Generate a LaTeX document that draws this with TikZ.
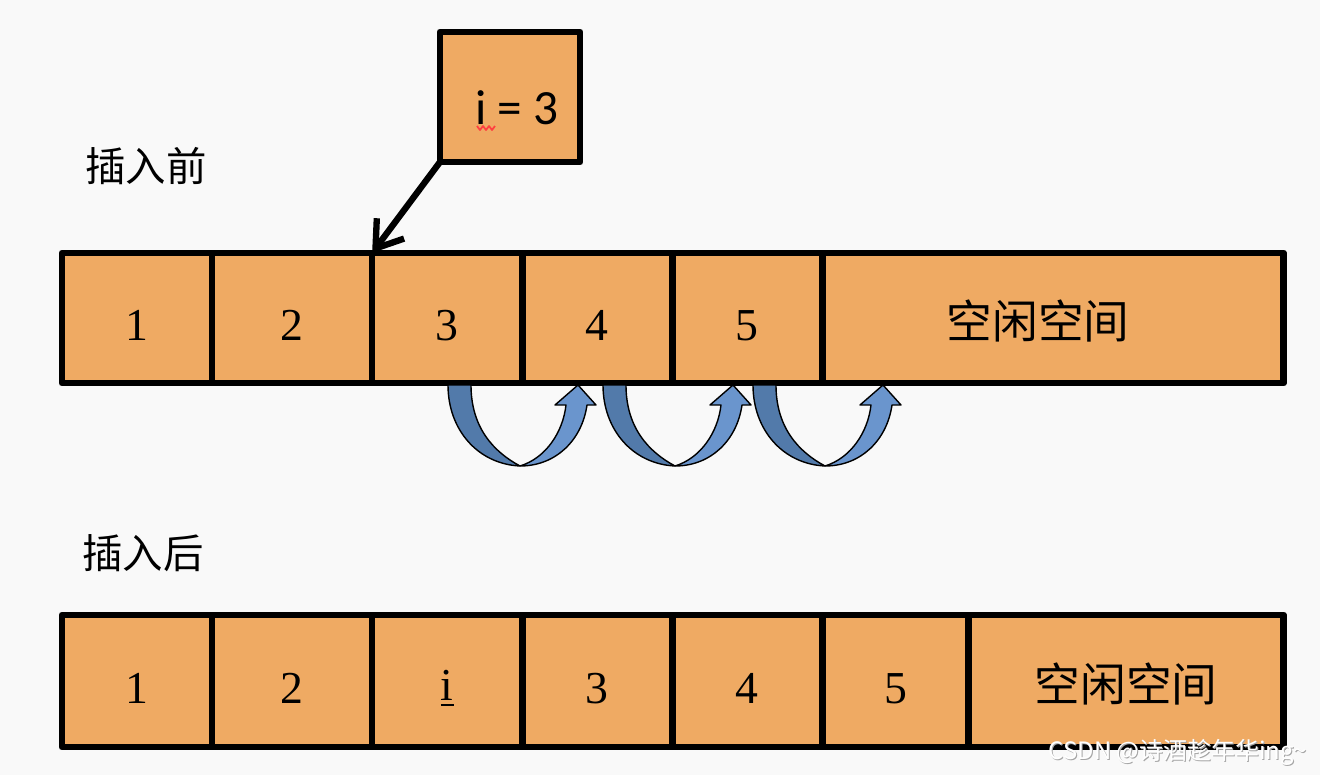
\documentclass[tikz,border=0pt]{standalone}
\usepackage{fontspec}
\setmainfont{Liberation Serif}
\newfontfamily\cjkfont{Noto Sans CJK SC}
\newfontfamily\carlito{Carlito}
\usetikzlibrary{arrows.meta,positioning}
\definecolor{cellorange}{RGB}{239,170,99}
\definecolor{arcdark}{RGB}{82,122,170}
\definecolor{arclight}{RGB}{106,149,205}
\definecolor{paper}{RGB}{249,249,249}
\tikzset{
	cell/.style={draw=black, line width=1.9pt, fill=cellorange, outer sep=0pt, inner sep=0pt,
		minimum height=1.3cm, text height=0.45cm, font=\fontsize{13}{15}\selectfont},
	free/.style={cell, font=\cjkfont\fontsize{13}{15}\selectfont},
	lbl/.style={inner sep=0pt, font=\cjkfont\fontsize{11.5}{14}\selectfont},
	swing/.style={draw=black, line width=0.4pt, line join=round},
}
\begin{document}
\begin{tikzpicture}[x=0.01cm, y=-0.01cm, line join=round, >=stealth]
	\path[fill=paper] (0,0) rectangle (1320,775);
	% labels
	\node[lbl] (before) at (146,166) {插入前};
	\node[lbl] (after) at (143,553) {插入后};
	% row before insert
	\node[cell, minimum width=1.5cm] (a1) at (137,318) {1};
	\node[cell, minimum width=1.6cm, right=0pt of a1] (a2) {2};
	\node[cell, minimum width=1.5cm, right=0pt of a2] (a3) {3};
	\node[cell, minimum width=1.5cm, right=0pt of a3] (a4) {4};
	\node[cell, minimum width=1.5cm, right=0pt of a4] (a5) {5};
	\node[free, minimum width=4.61cm, right=0pt of a5] (afree) {空闲空间\hspace*{0.3cm}};
	% new element
	\node[cell, minimum width=1.4cm] (q) at (510,97) {};
	\node[inner sep=0pt, font=\carlito\fontsize{14}{16}\selectfont] (qtext) at (517,108) {i = 3};
	\draw[red!75, line width=0.5pt] (477,126) -- (480,130) -- (483,126) -- (486,130) -- (489,126) -- (492,130) -- (495,126);
	\draw[line width=1.8pt, line cap=round, -{Straight Barb[length=2.5mm,width=3.4mm]}] (q.south west) -- (a3.north west);
	% moving arrows
	\foreach \dx in {0,155,305}{
		\begin{scope}[shift={(\dx,0)}]
			\path[swing, fill=arcdark] (448,385) .. controls (448,430) and (478,464) .. (520,466)
				.. controls (494,452) and (471,428) .. (471,385) -- cycle;
			\path[swing, fill=arclight] (520,466) .. controls (546,458) and (563,432) .. (566,405)
				-- (555,405) -- (578,385) -- (596,405) -- (587,405)
				.. controls (582,440) and (556,466) .. (520,466) -- cycle;
		\end{scope}
	}
	% row after insert
	\node[cell, minimum width=1.5cm, minimum height=1.32cm] (b1) at (137,681) {1};
	\node[cell, minimum width=1.6cm, minimum height=1.32cm, right=0pt of b1] (b2) {2};
	\node[cell, minimum width=1.5cm, minimum height=1.32cm, right=0pt of b2] (b3) {\underline{i}};
	\node[cell, minimum width=1.5cm, minimum height=1.32cm, right=0pt of b3] (b4) {3};
	\node[cell, minimum width=1.5cm, minimum height=1.32cm, right=0pt of b4] (b5) {4};
	\node[cell, minimum width=1.46cm, minimum height=1.32cm, right=0pt of b5] (b6) {5};
	\node[free, minimum width=3.15cm, minimum height=1.32cm, right=0pt of b6] (bfree) {空闲空间};
	% watermark
	\node[inner sep=0pt, text=gray!70, font=\cjkfont\fontsize{6.8}{8}\selectfont] (markshade) at (1179,753) {CSDN @诗酒趁年华ing\textasciitilde};
	\node[inner sep=0pt, text=white, font=\cjkfont\fontsize{6.8}{8}\selectfont] (mark) at (1178,752) {CSDN @诗酒趁年华ing\textasciitilde};
\end{tikzpicture}
\end{document}
